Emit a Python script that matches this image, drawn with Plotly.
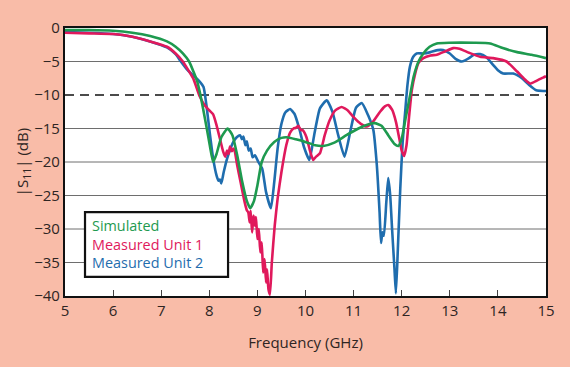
import plotly.graph_objects as go

# ---------------- data ----------------
sim_f = [5.0, 5.5, 6.0, 6.4, 6.77, 7.12, 7.3, 7.45, 7.58, 7.67, 7.75, 7.8, 7.87, 7.94, 8.01, 8.08,
         8.15, 8.25, 8.38, 8.48, 8.58, 8.68, 8.78, 8.85, 8.93, 9.0, 9.09, 9.2, 9.35, 9.5, 9.61, 9.8,
         10.0, 10.2, 10.37, 10.6, 10.85, 11.1, 11.3, 11.44, 11.58, 11.72, 11.85, 11.93, 12.0, 12.08,
         12.17, 12.25, 12.35, 12.45, 12.58, 12.73, 13.0, 13.5, 13.84, 14.1, 14.4, 14.7, 15.0]
sim_db = [-0.3, -0.3, -0.4, -0.7, -1.2, -2.0, -2.8, -3.8, -5.0, -6.5, -8.0, -9.5, -12.0, -14.7, -17.5, -20.0,
          -18.8, -16.3, -15.0, -16.0, -19.0, -22.8, -25.8, -26.9, -25.8, -23.5, -20.0, -18.3, -17.0, -16.4, -16.3, -16.6,
          -17.0, -17.5, -17.6, -17.1, -16.0, -15.0, -14.4, -14.2, -14.6, -16.0, -17.3, -17.6, -16.5, -13.5,
          -10.2, -7.2, -5.0, -3.8, -2.8, -2.3, -2.2, -2.2, -2.3, -3.0, -3.6, -4.0, -4.5]

u1_f = [5.0, 5.5, 6.0, 6.4, 6.77, 7.12, 7.3, 7.45, 7.58, 7.67, 7.8, 7.9, 8.0, 8.08, 8.15, 8.22, 8.29,
        8.33, 8.37, 8.4, 8.43, 8.47, 8.5, 8.53, 8.58, 8.65, 8.72, 8.78, 8.81, 8.84, 8.86, 8.89, 8.92,
        8.95, 8.97, 9.0, 9.03, 9.06, 9.09, 9.12, 9.15, 9.18, 9.2, 9.23, 9.26, 9.3, 9.36, 9.42, 9.5,
        9.6, 9.68, 9.75, 9.8, 9.85, 9.9, 9.95, 10.02, 10.1, 10.16, 10.22, 10.3, 10.4, 10.5, 10.62,
        10.75, 10.88, 11.0, 11.15, 11.27, 11.4, 11.55, 11.65, 11.72, 11.8, 11.88, 11.95, 12.0, 12.05,
        12.1, 12.15, 12.21, 12.28, 12.35, 12.45, 12.6, 12.73, 12.9, 13.07, 13.2, 13.4, 13.63, 13.9,
        14.18, 14.4, 14.55, 14.67, 14.8, 14.94, 15.0]
u1_db = [-0.7, -0.8, -0.9, -1.3, -2.0, -2.8, -3.8, -5.0, -6.5, -7.6, -10.2, -11.5, -12.3, -12.9, -14.5, -16.5, -18.5,
         -19.2, -18.3, -18.8, -17.7, -18.4, -18.0, -18.4, -20.5, -23.0, -25.5, -27.2, -27.5, -29.0, -27.3, -30.5, -28.0,
         -29.5, -28.2, -31.5, -30.0, -33.5, -32.0, -36.5, -34.5, -38.0, -36.0, -39.0, -39.8, -35.0, -29.5, -25.5, -21.5,
         -17.5, -15.6, -15.0, -14.9, -14.6, -15.2, -15.3, -16.3, -18.5, -19.7, -19.2, -18.7, -16.0, -13.8, -12.3,
         -11.8, -12.3, -13.3, -14.3, -14.7, -14.0, -12.5, -11.7, -11.5, -12.2, -14.0, -16.5, -18.3, -19.1,
         -17.5, -13.5, -9.3, -6.8, -5.2, -4.5, -4.1, -4.0, -3.5, -3.0, -3.1, -3.7, -4.3, -4.5,
         -5.0, -6.5, -7.6, -8.3, -7.9, -7.4, -7.2]

u2_f = [5.0, 5.5, 6.0, 6.4, 6.77, 7.12, 7.3, 7.39, 7.55, 7.7, 7.8, 7.88, 7.94, 8.01, 8.08, 8.15, 8.19,
        8.22, 8.25, 8.3, 8.37, 8.43, 8.5, 8.57, 8.64, 8.68, 8.71, 8.75, 8.78, 8.82, 8.86, 8.9, 8.95,
        9.02, 9.1, 9.18, 9.28, 9.35, 9.42, 9.5, 9.58, 9.68, 9.77, 9.87, 9.97, 10.08, 10.18, 10.3,
        10.44, 10.56, 10.68, 10.81, 10.93, 11.05, 11.17, 11.3, 11.41, 11.48, 11.54, 11.57, 11.6, 11.63,
        11.68, 11.72, 11.76, 11.8, 11.85, 11.88, 11.92, 11.97, 12.02, 12.07, 12.12, 12.17, 12.24, 12.31,
        12.45, 12.6, 12.75, 12.86, 13.0, 13.12, 13.25, 13.4, 13.5, 13.63, 13.75, 13.9, 14.0, 14.11,
        14.32, 14.5, 14.65, 14.8, 14.94, 15.0]
u2_db = [-0.6, -0.7, -0.9, -1.3, -2.0, -2.9, -3.9, -4.8, -6.3, -7.3, -8.0, -8.8, -11.5, -15.7, -19.5, -22.0, -22.8,
         -22.6, -23.2, -21.5, -19.5, -18.2, -17.0, -16.3, -16.0, -16.6, -16.2, -17.5, -16.9, -18.3, -18.0, -19.3, -19.0,
         -20.0, -21.0, -24.5, -26.9, -23.0, -18.0, -14.3, -12.6, -12.1, -12.8, -15.0, -17.8, -19.7, -16.0, -12.0,
         -10.8, -12.5, -16.0, -19.2, -15.5, -11.9, -11.2, -13.0, -15.2, -20.2, -27.5, -32.1, -30.5, -31.0,
         -26.0, -22.4, -24.9, -30.0, -36.0, -39.6, -33.0, -24.0, -17.0, -12.7, -8.5, -5.8, -4.3, -3.8,
         -3.8, -3.6, -3.3, -3.3, -3.8, -4.6, -5.0, -4.5, -4.0, -3.9, -4.3, -5.5, -6.3, -6.8,
         -6.8, -7.5, -8.5, -9.3, -9.4, -9.4]

series_names = ["Simulated", "Measured Unit 1", "Measured Unit 2"]
series_colors = ["#1E9A4F", "#E0195C", "#1F6DAE"]

x_ticks = [5, 6, 7, 8, 9, 10, 11, 12, 13, 14, 15]
y_ticks = [0, -5, -10, -15, -20, -25, -30, -35, -40]
grid_levels = [-5, -15, -20, -25, -30, -35]
ref_level = -10

# ---------------- figure ----------------
fig = go.Figure()
for f, d, name, col in zip([u2_f, u1_f, sim_f], [u2_db, u1_db, sim_db],
                           series_names[::-1], series_colors[::-1]):
    fig.add_trace(go.Scatter(x=f, y=d, mode="lines", name=name,
                             line=dict(color=col, width=2.6, shape="spline", smoothing=0.5),
                             showlegend=False))

for g in grid_levels:
    fig.add_shape(type="line", xref="paper", x0=0, x1=1, yref="y", y0=g, y1=g,
                  line=dict(color="#6E6E6E", width=1), layer="below")
fig.add_shape(type="line", xref="paper", x0=0, x1=1, yref="y", y0=ref_level, y1=ref_level,
              line=dict(color="#111111", width=1.3, dash="9px,6px"), layer="below")

# legend box drawn as a shape + coloured text lines
fig.add_shape(type="rect", xref="paper", yref="paper", x0=0.0416, x1=0.339, y0=0.071, y1=0.313,
              line=dict(color="#111111", width=2.2), fillcolor="white", layer="above")
legend_text = "<br>".join(
    f"<span style='color:{c}'>{n}</span>" for n, c in zip(series_names, series_colors))
fig.add_annotation(xref="paper", yref="paper", x=0.052, y=0.193, xanchor="left", yanchor="middle",
                   text=legend_text, showarrow=False, align="left",
                   font=dict(family="Open Sans, sans-serif", size=14.4))

text_col = "#2E2523"
axis_font = dict(family="Open Sans, sans-serif", size=15, color=text_col)
fig.update_layout(
    width=570, height=367,
    margin=dict(l=65, r=24, t=28, b=71),
    paper_bgcolor="#F9BCA8", plot_bgcolor="white",
    font=axis_font,
    xaxis=dict(range=[5, 15], tickvals=x_ticks, showgrid=False, zeroline=False, automargin=False,
               showline=True, linecolor="#111111", linewidth=2.2, mirror=True,
               ticks="inside", ticklen=6, tickcolor="#444444", tickwidth=1,
               title=dict(text="Frequency (GHz)", font=axis_font, standoff=18),
               tickfont=axis_font),
    yaxis=dict(range=[-40, 0], tickvals=y_ticks, showgrid=False, zeroline=False, automargin=False,
               showline=True, linecolor="#111111", linewidth=2.2, mirror=True,
               ticks="", title=dict(text="|S<sub>11</sub>| (dB)", font=axis_font, standoff=2),
               tickfont=axis_font),
)

fig.write_html("out.html", config={"displayModeBar": False},
               post_script="document.body.style.margin='0';document.body.style.background='#F9BCA8';")
